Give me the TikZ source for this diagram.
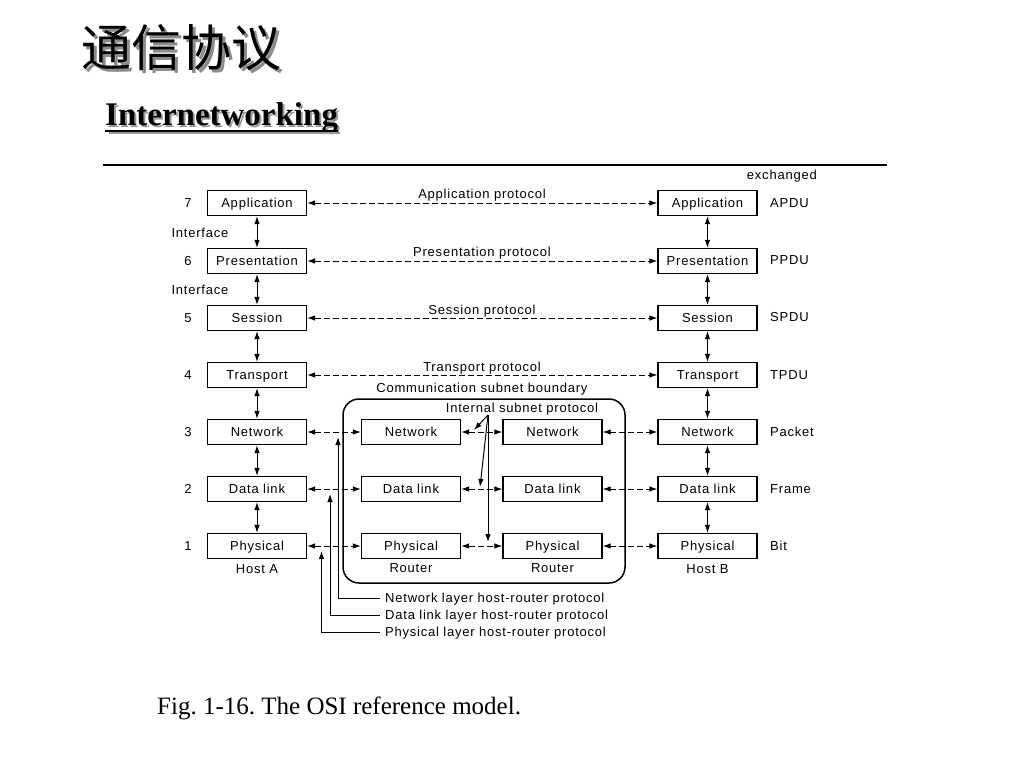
\documentclass[tikz,border=0pt]{standalone}
\usepackage{fontspec}
\setmainfont{Liberation Serif}
\newfontfamily\dia{Liberation Sans}[LetterSpace=6]
\newfontfamily\cjk{Noto Sans CJK SC}
\usetikzlibrary{arrows.meta}
\frenchspacing
\begin{document}
\begin{tikzpicture}[x=1pt,y=-1pt,
  dfont/.style={font=\dia\fontsize{13}{15}\selectfont},
  box/.style={draw, line width=1.2pt, minimum width=99pt, minimum height=25pt, inner sep=0pt, text height=9.3pt, text depth=0pt, dfont},
  lbl/.style={inner sep=0pt, text height=9.3pt, text depth=0pt, dfont},
  tip/.style={-{Latex[length=8pt,width=5.5pt]}, line width=1pt},
  dbl/.style={{Latex[length=8pt,width=5.5pt]}-{Latex[length=8pt,width=5.5pt]}, line width=1pt},
  dsh/.style={dbl, dash pattern=on 6pt off 3pt},
]
\fill[white] (0,0) rectangle (1024,768);
\useasboundingbox (0,0) rectangle (1024,768);

% Title
\node[text=black!45, font=\cjk\fontsize{50}{56}\selectfont, inner sep=0pt] (titsh) at (184,51) {通信协议};
\node[font=\cjk\fontsize{50}{56}\selectfont, inner sep=0pt] (tit) at (181,48) {通信协议};
\node[text=black!40, font=\bfseries\fontsize{33}{37}\selectfont, inner sep=0pt, anchor=base west] (subsh) at (107,127) {Internetworking};
\node[font=\bfseries\fontsize{33}{37}\selectfont, inner sep=0pt, anchor=base west] (sub) at (105,125) {Internetworking};
\draw[black!40, line width=1.5pt] ([xshift=2pt,yshift=-6pt]subsh.base west) -- ([yshift=-6pt]subsh.base east);
\draw[line width=1.5pt] ([yshift=-6pt]sub.base west) -- ([yshift=-6pt]sub.base east);
\coordinate (rl) at (103,165);
\coordinate (rr) at (887,165);
\draw[line width=1.1pt] (rl) -- (rr);

% subnet boundary
\draw[line width=1.5pt, rounded corners=16pt] (343,399) rectangle (625,583);

% Host A / Host B
\foreach \n/\t/\y in {7/Application/203, 6/Presentation/261, 5/Session/318, 4/Transport/375, 3/Network/432, 2/Data link/489, 1/Physical/546}{
  \node[box] (a\n) at (257,\y) {\t};
  \node[box] (b\n) at (707.5,\y) {\t};
  \node[lbl] (num\n) at (188,\y) {\n};
}
\foreach \n/\t in {3/Network, 2/Data link, 1/Physical}{
  \node[box] (r\n) at (411,{432+(3-\n)*57}) {\t};
  \node[box] (s\n) at (552.5,{432+(3-\n)*57}) {\t};
}
\foreach \u/\l in {7/6,6/5,5/4,4/3,3/2,2/1}{
  \draw[dbl] (a\u.south) -- (a\l.north);
  \draw[dbl] (b\u.south) -- (b\l.north);
}
\foreach \n in {7,6,5,4}{
  \draw[dsh] (a\n.east) -- (b\n.west);
}
\foreach \n in {3,2,1}{
  \draw[dsh] (a\n.east) -- (r\n.west);
  \draw[dsh] (r\n.east) -- (s\n.west);
  \draw[dsh] (s\n.east) -- (b\n.west);
}

% labels
\node[lbl] (if1) at (200,233) {Interface};
\node[lbl] (if2) at (200,290) {Interface};
\node[lbl] (ha) at (257,569) {Host A};
\node[lbl] (hb) at (707.5,569) {Host B};
\node[lbl] (ra) at (411,568) {Router};
\node[lbl] (rb) at (552.5,568) {Router};
\node[lbl, anchor=east] (exch) at (817,175) {exchanged};
\foreach \n/\t in {7/APDU,6/PPDU,5/SPDU,4/TPDU,3/Packet,2/Frame,1/Bit}{
  \node[lbl, anchor=west] (pdu\n) at (770,{546-(\n-1)*57.17}) {\t};
}
\node[lbl] (pa) at (482,194) {Application protocol};
\node[lbl] (pp) at (482,252) {Presentation protocol};
\node[lbl] (ps) at (482,310) {Session protocol};
\node[lbl] (pt) at (482,367) {Transport protocol};
\node[lbl] (csb) at (482,388) {Communication subnet boundary};
\node[lbl] (isp) at (522,408) {Internal subnet protocol};

% internal subnet protocol arrows
\coordinate (iap) at (488,415);
\coordinate (i3) at (474,430);
\coordinate (i2) at (480,487);
\coordinate (i1) at (488,542);
\draw[tip] (iap) -- (i3);
\draw[tip] (iap) -- (i2);
\draw[tip] (iap) -- (i1);

% host-router protocols
\node[lbl, anchor=west] (hr3) at (385,598) {Network layer host-router protocol};
\node[lbl, anchor=west] (hr2) at (385,615) {Data link layer host-router protocol};
\node[lbl, anchor=west] (hr1) at (385,632) {Physical layer host-router protocol};
\coordinate (h3) at (338,437);
\coordinate (h2) at (330,494);
\coordinate (h1) at (321.5,551);
\draw[tip] ([xshift=-5pt]hr3.west) -| (h3);
\draw[tip] ([xshift=-5pt]hr2.west) -| (h2);
\draw[tip] ([xshift=-5pt]hr1.west) -| (h1);

% caption
\node[font=\fontsize{25}{29}\selectfont, inner sep=0pt, anchor=west] (cap) at (157,708) {Fig. 1-16. The OSI reference model.};
\end{tikzpicture}
\end{document}
